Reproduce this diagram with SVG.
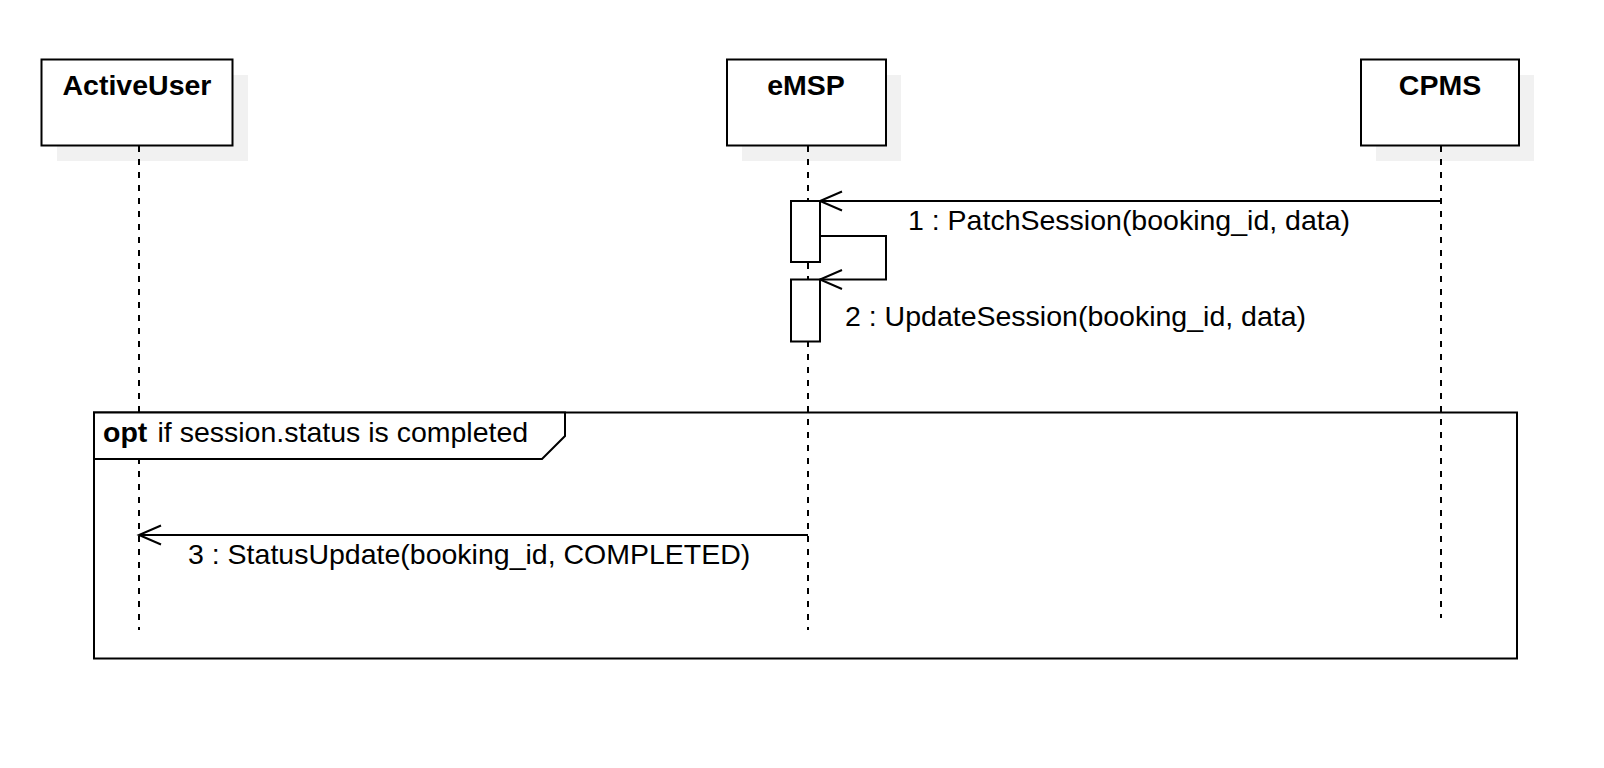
<svg xmlns="http://www.w3.org/2000/svg" width="1604" height="768" viewBox="0 0 1604 768">
<style>
.shadow{fill:#f1f1f1;stroke:none}
.box{fill:#fff;stroke:#000;stroke-width:2}
.title{font-family:"Liberation Sans",Arial,sans-serif;font-size:28.5px;font-weight:bold;fill:#000;text-anchor:middle}
.lbl{font-family:"Liberation Sans",Arial,sans-serif;font-size:28.5px;fill:#000}
.life{stroke:#000;stroke-width:2;stroke-dasharray:6 7;fill:none}
.msg{stroke:#000;stroke-width:2;fill:none}
.act{fill:#fff;stroke:#000;stroke-width:2}
</style>
<defs>
<marker id="open" markerUnits="userSpaceOnUse" markerWidth="30" markerHeight="30" viewBox="-26 -12 30 24" refX="0" refY="0" orient="auto">
<path d="M-22,-9.5 L0,0 L-22,9.5" fill="none" stroke="#000" stroke-width="2"/>
</marker>
</defs>
<rect width="1604" height="768" fill="#fff"/>

<g id="ActiveUser">
<rect class="shadow" x="57" y="75" width="191" height="86"/>
<rect class="box" x="41.5" y="59.5" width="191" height="86"/>
<text class="title" x="137" y="95">ActiveUser</text>
</g>
<g id="eMSP">
<rect class="shadow" x="742" y="75" width="159" height="86"/>
<rect class="box" x="727" y="59.5" width="159" height="86"/>
<text class="title" x="806" y="95">eMSP</text>
</g>
<g id="CPMS">
<rect class="shadow" x="1376" y="75" width="158" height="86"/>
<rect class="box" x="1361" y="59.5" width="158" height="86"/>
<text class="title" x="1440" y="95">CPMS</text>
</g>

<g id="lifelines">
<line class="life" x1="139" y1="146" x2="139" y2="630"/>
<line class="life" x1="808" y1="146" x2="808" y2="630"/>
<line class="life" x1="1441" y1="146" x2="1441" y2="618"/>
</g>

<g id="activations">
<rect class="act" x="791" y="201" width="29" height="61"/>
<rect class="act" x="791" y="279.5" width="29" height="62"/>
</g>

<g id="opt-frame">
<rect x="94" y="412.5" width="1423" height="246" fill="none" stroke="#000" stroke-width="2"/>
<path d="M94,412.5 L565,412.5 L565,436 L542,459 L94,459 Z" fill="#fff" stroke="#000" stroke-width="2"/>
<text class="lbl" x="103" y="442"><tspan font-weight="bold">opt</tspan><tspan x="157.5">if session.status is completed</tspan></text>
</g>

<g id="connectors">
<line class="msg" x1="1441" y1="201" x2="820" y2="201" marker-end="url(#open)"/>
<text class="lbl" x="908" y="230">1 : PatchSession(booking_id, data)</text>
<polyline class="msg" points="820,236 886,236 886,279.5 820,279.5" marker-end="url(#open)"/>
<text class="lbl" x="845" y="326">2 : UpdateSession(booking_id, data)</text>
<line class="msg" x1="808" y1="535" x2="139" y2="535" marker-end="url(#open)"/>
<text class="lbl" x="188" y="564">3 : StatusUpdate(booking_id, COMPLETED)</text>
</g>
</svg>
